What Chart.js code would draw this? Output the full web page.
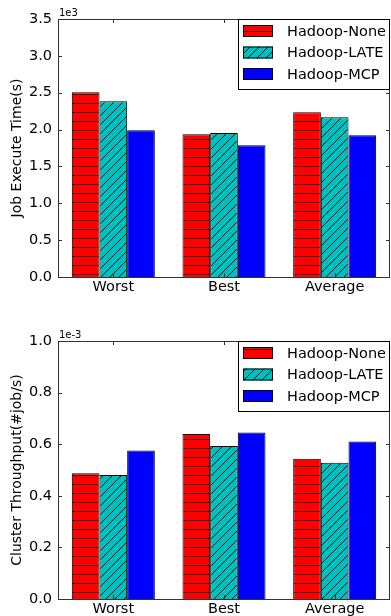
<!DOCTYPE html>
<html>
<head>
<meta charset="utf-8">
<script src="https://cdn.jsdelivr.net/npm/chart.js@4.4.1/dist/chart.umd.min.js"></script>
<style>
  body { margin: 0; background: #fff; }
  .box { position: relative; width: 391px; }
  canvas { display: block; }
</style>
</head>
<body>
<div class="box"><canvas id="timeChart" width="391" height="300"></canvas></div>
<div class="box"><canvas id="tputChart" width="391" height="316"></canvas></div>
<script>
// categories on the x axis
const cases = ["Worst", "Best", "Average"];

// series names
const seriesNames = ["Hadoop-None", "Hadoop-LATE", "Hadoop-MCP"];

// job execute time in seconds
const timeNone = [2506, 1936, 2234];
const timeLate = [2384, 1953, 2166];
const timeMcp = [1990, 1786, 1922];

// cluster throughput in jobs per second
const tputNone = [0.000487, 0.000640, 0.000544];
const tputLate = [0.000481, 0.000593, 0.000528];
const tputMcp = [0.000576, 0.000645, 0.000610];

const FONT = "'DejaVu Sans', sans-serif";

// hatch pattern with horizontal lines (red bars)
function hLines(color) {
  const c = document.createElement("canvas");
  c.width = 9; c.height = 9;
  const g = c.getContext("2d");
  g.fillStyle = color;
  g.fillRect(0, 0, 9, 9);
  g.fillStyle = "#4a0000";
  g.fillRect(0, 4, 9, 1);
  return g.createPattern(c, "repeat");
}

// hatch pattern with "/" lines (cyan bars)
function diagLines(color) {
  const c = document.createElement("canvas");
  c.width = 9; c.height = 9;
  const g = c.getContext("2d");
  g.fillStyle = color;
  g.fillRect(0, 0, 9, 9);
  g.strokeStyle = "#000";
  g.lineWidth = 0.9;
  g.beginPath();
  g.moveTo(-1, 10); g.lineTo(10, -1);
  g.moveTo(-1, 1); g.lineTo(1, -1);
  g.moveTo(8, 10); g.lineTo(10, 8);
  g.stroke();
  return g.createPattern(c, "repeat");
}

// draws the frame, inward ticks, legend box and offset text like matplotlib
const mplLook = {
  id: "mplLook",
  afterDatasetsDraw(chart, args, opts) {
    const ctx = chart.ctx;
    const a = chart.chartArea;
    ctx.save();
    ctx.strokeStyle = "#333";
    ctx.lineWidth = 1;
    ctx.strokeRect(a.left + 0.5, a.top + 0.5, a.right - a.left - 1, a.bottom - a.top);

    // inward ticks
    ctx.beginPath();
    chart.scales.y.ticks.forEach((t, i) => {
      const y = Math.round(chart.scales.y.getPixelForTick(i)) + 0.5;
      ctx.moveTo(a.left, y); ctx.lineTo(a.left + 4, y);
      ctx.moveTo(a.right, y); ctx.lineTo(a.right - 4, y);
    });
    chart.scales.x.ticks.forEach((t, i) => {
      const x = Math.round(chart.scales.x.getPixelForTick(i)) + 0.5;
      ctx.moveTo(x, a.top); ctx.lineTo(x, a.top + 4);
      ctx.moveTo(x, a.bottom); ctx.lineTo(x, a.bottom - 4);
    });
    ctx.stroke();

    // offset text above the axis
    ctx.fillStyle = "#000";
    ctx.font = "10px " + FONT;
    ctx.textBaseline = "bottom";
    ctx.fillText(opts.offset, a.left + 1, a.top - 1);

    // legend box at the top right
    const bx = a.left + 180, by = a.top, bw = a.right - bx, bh = 70;
    ctx.fillStyle = "#fff";
    ctx.fillRect(bx, by, bw, bh);
    ctx.strokeStyle = "#000";
    ctx.strokeRect(bx + 0.5, by + 0.5, bw - 1, bh);
    ctx.font = "14.5px " + FONT;
    ctx.textBaseline = "middle";
    chart.data.datasets.forEach((ds, i) => {
      const cy = by + 12 + i * 21.5;
      ctx.fillStyle = ds.backgroundColor;
      ctx.fillRect(bx + 5, cy - 6, 30, 12);
      ctx.strokeStyle = "#000";
      ctx.strokeRect(bx + 5.5, cy - 5.5, 29, 11);
      ctx.fillStyle = "#000";
      ctx.fillText(ds.label, bx + 49, cy + 1);
    });
    ctx.restore();
  }
};

function makeChart(id, values, yTitle, yMax, yStep, fmt, offset, topPad, xHeight) {
  const colors = [hLines("#ff0000"), diagLines("#00bfbf"), "#0000ff"];
  return new Chart(document.getElementById(id), {
    type: "bar",
    data: {
      labels: cases,
      datasets: values.map((v, i) => ({
        label: seriesNames[i],
        data: v,
        backgroundColor: colors[i],
        borderColor: "#000",
        borderWidth: 1,
        categoryPercentage: 0.75,
        barPercentage: 1.0
      }))
    },
    options: {
      responsive: false,
      animation: false,
      layout: { padding: { top: topPad, right: 1, left: 0, bottom: 0 } },
      plugins: {
        legend: { display: false },
        tooltip: { enabled: false },
        mplLook: { offset: offset }
      },
      scales: {
        x: {
          grid: { display: false, drawTicks: false },
          border: { display: false },
          ticks: { color: "#000", font: { family: FONT, size: 14.5 }, padding: 2 },
          afterFit: (s) => { s.height = xHeight; }
        },
        y: {
          min: 0,
          max: yMax,
          grid: { display: false, drawTicks: false },
          border: { display: false },
          ticks: {
            stepSize: yStep,
            color: "#000",
            font: { family: FONT, size: 14.5 },
            padding: 6,
            callback: fmt
          },
          title: {
            display: true,
            text: yTitle,
            color: "#000",
            font: { family: FONT, size: 14 },
            padding: { top: 9, bottom: 0 }
          },
          afterFit: (s) => { s.width = 58; }
        }
      }
    },
    plugins: [mplLook]
  });
}

makeChart("timeChart", [timeNone, timeLate, timeMcp], "Job Execute Time(s)",
  3500, 500, (v) => (v / 1000).toFixed(1), "1e3", 19, 23);

makeChart("tputChart", [tputNone, tputLate, tputMcp], "Cluster Throughput(#job/s)",
  0.001, 0.0002, (v) => (v * 1000).toFixed(1), "1e-3", 41, 17);
</script>
</body>
</html>
